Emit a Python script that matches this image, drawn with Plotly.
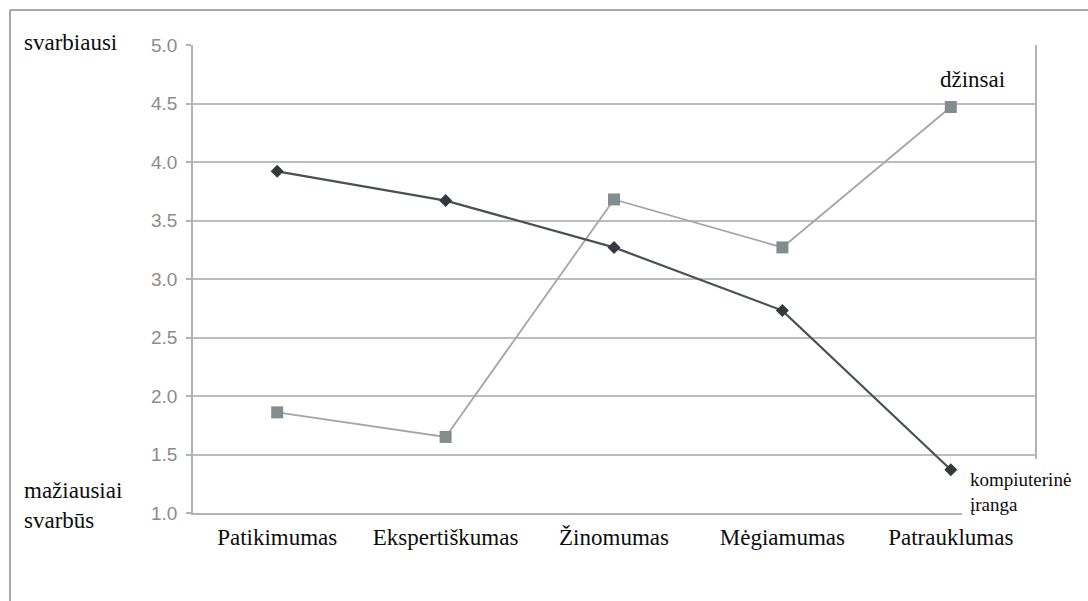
import plotly.graph_objects as go

# Attribute categories along the x axis
categories = ["Patikimumas", "Ekspertiškumas", "Žinomumas", "Mėgiamumas", "Patrauklumas"]

# Importance scores per product category
kompiuterine_iranga = [3.92, 3.67, 3.27, 2.73, 1.37]
dzinsai = [1.86, 1.65, 3.68, 3.27, 4.47]

y_ticks = [1.0, 1.5, 2.0, 2.5, 3.0, 3.5, 4.0, 4.5, 5.0]
y_tick_text = ["1.0", "1.5", "2.0", "2.5", "3.0", "3.5", "4.0", "4.5", "5.0"]

W, H = 1088, 601
ML, MR, MT, MB = 193, 53, 45, 88
PW, PH = W - ML - MR, H - MT - MB


def px(x):
    return (x - ML) / PW


def py(y):
    return (H - MB - y) / PH


SERIF = "Liberation Serif"
TEXT = "#0d0d0d"

fig = go.Figure()

fig.add_trace(go.Scatter(
    x=categories, y=dzinsai, mode="lines+markers",
    line=dict(color="#a3a6a6", width=1.8),
    marker=dict(symbol="square", size=12, color="#838c8e"),
    showlegend=False,
))
fig.add_trace(go.Scatter(
    x=categories, y=kompiuterine_iranga, mode="lines+markers",
    line=dict(color="#4b5053", width=2.2),
    marker=dict(symbol="diamond", size=10, color="#33393c"),
    showlegend=False,
))

fig.update_layout(
    width=W, height=H,
    margin=dict(l=ML, r=MR, t=MT, b=MB),
    paper_bgcolor="white", plot_bgcolor="white",
    xaxis=dict(
        type="category", range=[-0.5, 4.5],
        showgrid=False, zeroline=False,
        showline=True, linecolor="#b3b3b3", linewidth=1.5,
        tickfont=dict(family=SERIF, size=23, color=TEXT),
        ticks="", ticklabelstandoff=3,
    ),
    yaxis=dict(
        range=[1.0, 5.0], tickvals=y_ticks, ticktext=y_tick_text,
        showgrid=True, gridcolor="#bdbdbd", gridwidth=1.5,
        zeroline=False, showline=True, mirror=True,
        linecolor="#b3b3b3", linewidth=1.5,
        ticks="outside", ticklen=5, tickcolor="#b3b3b3", tickwidth=1.5,
        tickfont=dict(family="Liberation Sans", size=19, color="#8c8c8c"),
        ticklabelstandoff=5,
    ),
    shapes=[
        dict(type="line", xref="paper", yref="paper",
             x0=px(10), y0=py(10), x1=px(1088), y1=py(10),
             line=dict(color="#8a8a8a", width=1.5)),
        dict(type="line", xref="paper", yref="paper",
             x0=px(10), y0=py(10), x1=px(10), y1=py(601),
             line=dict(color="#8a8a8a", width=1.5)),
        # white patch behind the lower-right series label
        dict(type="rect", xref="paper", yref="paper", layer="above",
             x0=px(962), y0=py(459), x1=px(1088), y1=py(522),
             fillcolor="white", line=dict(width=0)),
    ],
    annotations=[
        dict(text="svarbiausi", xref="paper", yref="paper",
             x=px(22), y=py(42), xanchor="left", yanchor="middle",
             showarrow=False, font=dict(family=SERIF, size=23, color=TEXT)),
        dict(text="mažiausiai<br>svarbūs", xref="paper", yref="paper",
             x=px(22), y=py(505), xanchor="left", yanchor="middle", align="left",
             showarrow=False, font=dict(family=SERIF, size=23, color=TEXT)),
        dict(text="džinsai", xref="paper", yref="paper",
             x=px(972), y=py(80), xanchor="center", yanchor="middle",
             showarrow=False, font=dict(family=SERIF, size=23, color=TEXT)),
        dict(text="kompiuterinė<br>įranga", xref="paper", yref="paper",
             x=px(968), y=py(492), xanchor="left", yanchor="middle", align="left",
             showarrow=False, font=dict(family=SERIF, size=19, color=TEXT)),
    ],
)

fig.write_html("out.html")
